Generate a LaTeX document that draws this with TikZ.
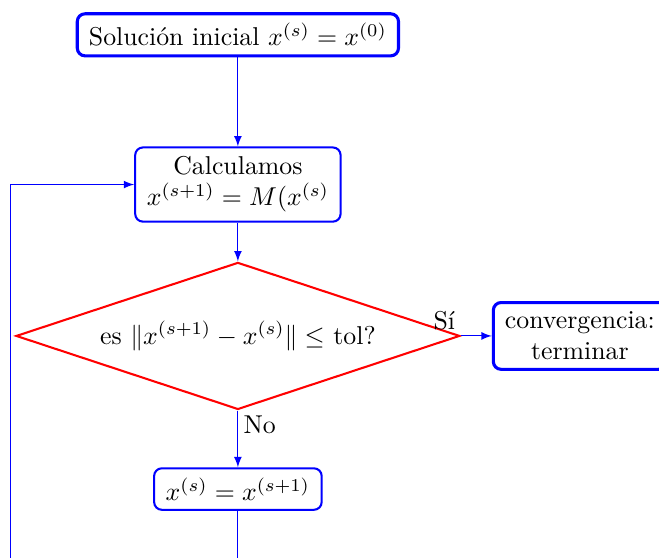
\documentclass[tikz,border=0pt]{standalone}
\usepackage{amsmath, amssymb}
\usetikzlibrary{positioning, shapes.geometric, calc}

\begin{document}
\begin{tikzpicture}[
    node distance=1cm and 1cm,
    boxstyle/.style={rectangle, draw=blue, rounded corners=3pt, align=center, inner xsep=4.5pt, inner ysep=3.6pt, thick},
    startstyle/.style={boxstyle, very thick},
    decstyle/.style={diamond, draw=red, thick, aspect=3, inner sep=1pt, minimum width=172pt, minimum height=57pt, align=center},
    arrowstyle/.style={->, >=latex, blue},
    labelstyle/.style={text=black, inner sep=2pt}
]
    % frame of the picture
    \clip (-92.2pt,-85.7pt) rectangle (163.2pt,130.2pt);

    % Decision
    \node (dec) [decstyle] at (0,0) {es $\|x^{(s+1)}-x^{(s)}\| \leq$ tol?};

    % Steps
    \node (calc) [boxstyle, above=15pt of dec] {Calculamos\\$x^{(s+1)}=M(x^{(s)}$};
    \node (init) [startstyle, above=34.5pt of calc] {Soluci\'on inicial $x^{(s)}=x^{(0)}$};
    \node (conv) [startstyle, right=12pt of dec] {convergencia:\\terminar};
    \node (update) [boxstyle, below=22pt of dec] {$x^{(s)}=x^{(s+1)}$};

    % Loop corner
    \coordinate (bend) at (-88pt,-95pt);

    % Connections
    \draw [arrowstyle] (init) -- (calc);
    \draw [arrowstyle] (calc) -- (dec);
    \draw [arrowstyle] (dec.east) -- node[labelstyle, above left, pos=0] {S\'i} (conv);
    \draw [arrowstyle] (dec.south) -- node[labelstyle, below right, pos=0] {No} (update);
    \draw [arrowstyle] (update.south) -- (update.south |- bend) -- (bend) |- (calc.west);

\end{tikzpicture}
\end{document}
